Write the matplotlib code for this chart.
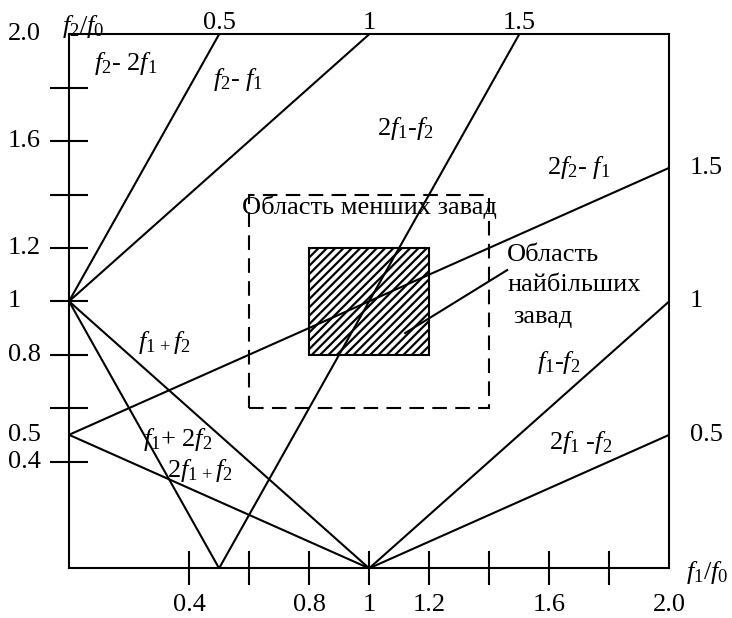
import matplotlib
matplotlib.use("Agg")
import matplotlib.pyplot as plt
from matplotlib.patches import Rectangle

plt.rcParams['font.family'] = ['Liberation Serif', 'DejaVu Serif']
plt.rcParams['mathtext.fontset'] = 'custom'
plt.rcParams['mathtext.rm'] = 'Liberation Serif'
plt.rcParams['mathtext.it'] = 'Liberation Serif:italic'
plt.rcParams['mathtext.bf'] = 'Liberation Serif:bold'
plt.rcParams['hatch.linewidth'] = 1.6

# Intermodulation lines m*f1 +/- n*f2 = f0, given by their end points (f1/f0, f2/f0)
line_f1_start = [0.0, 0.0, 0.5, 0.0, 1.0, 1.0, 0.0, 0.0, 0.0]
line_f2_start = [1.0, 1.0, 0.0, 0.5, 0.0, 0.0, 1.0, 1.0, 0.5]
line_f1_end = [0.5, 1.0, 1.5, 2.0, 2.0, 2.0, 0.5, 1.0, 1.0]
line_f2_end = [2.0, 2.0, 2.0, 1.5, 1.0, 0.5, 0.0, 0.0, 0.0]

# Values where lines leave the frame
top_values = [0.5, 1.0, 1.5]
top_labels = ['0.5', '1', '1.5']
right_values = [1.5, 1.0, 0.5]
right_labels = ['1.5', '1', '0.5']

# Axis ticks and their labels
tick_values = [0.4, 0.6, 0.8, 1.0, 1.2, 1.4, 1.6, 1.8]
y_label_values = [2.0, 1.6, 1.2, 1.0, 0.8, 0.5, 0.4]
y_label_texts = ['2.0', '1.6', '1.2', '1', '0.8', '0.5', '0.4']
x_label_values = [0.4, 0.8, 1.0, 1.2, 1.6, 2.0]
x_label_texts = ['0.4', '0.8', '1', '1.2', '1.6', '2.0']

# Regions (f1/f0, f2/f0): lower-interference zone and strongest-interference zone
minor_zone = (0.6, 0.6, 1.4, 1.4)
major_zone = (0.8, 0.8, 1.2, 1.2)

# Product labels
product_texts = [r'$f_2$- 2$f_1$', r'$f_2$- $f_1$', r'2$f_1$-$f_2$', r'2$f_2$- $f_1$',
                 r'$f_{1\,+}f_2$', r'$f_1$+ 2$f_2$', r'2$f_{1\,+}f_2$',
                 r'$f_1$-$f_2$', r'2$f_1$ -$f_2$']
product_x = [0.19, 0.562, 1.12, 1.697, 0.317, 0.363, 0.437, 1.63, 1.703]
product_y = [1.892, 1.829, 1.649, 1.503, 0.844, 0.481, 0.368, 0.769, 0.473]

FS = 19

fig = plt.figure(figsize=(7.32, 6.18), dpi=100)
ax = fig.add_axes([0.0943, 0.0804, 0.82, 0.8641])
ax.set_xlim(0, 2)
ax.set_ylim(0, 2)

for s in ax.spines.values():
    s.set_linewidth(1.5)

ax.set_xticks(tick_values)
ax.set_yticks(tick_values)
ax.set_xticklabels([])
ax.set_yticklabels([])
ax.tick_params(axis='y', direction='inout', length=27, width=1.5)
ax.tick_params(axis='x', direction='inout', length=24, width=1.5)

for x0, y0, x1, y1 in zip(line_f1_start, line_f2_start, line_f1_end, line_f2_end):
    ax.plot([x0, x1], [y0, y1], color='black', lw=1.5, solid_capstyle='butt')

# Zones
ax.add_patch(Rectangle((minor_zone[0], minor_zone[1]),
                       minor_zone[2] - minor_zone[0], minor_zone[3] - minor_zone[1],
                       fill=False, edgecolor='black', lw=1.5, linestyle=(0, (7, 4))))
ax.add_patch(Rectangle((major_zone[0], major_zone[1]),
                       major_zone[2] - major_zone[0], major_zone[3] - major_zone[1],
                       facecolor='white', edgecolor='black', hatch='////', lw=1.5, zorder=1.5))

ax.text(0.577, 1.353, 'Область менших завад', fontsize=FS, ha='left', va='center')
ax.text(1.46, 1.173, 'Область', fontsize=FS, ha='left', va='center')
ax.text(1.46, 1.061, 'найбільших', fontsize=FS, ha='left', va='center')
ax.text(1.48, 0.942, 'завад', fontsize=FS, ha='left', va='center')
ax.plot([1.46, 1.12], [1.117, 0.881], color='black', lw=1.5)

for t, x, y in zip(product_texts, product_x, product_y):
    ax.text(x, y, t, fontsize=FS, ha='center', va='center')

# Values at the frame edges
for v, t in zip(top_values, top_labels):
    ax.text(v, 2.02, t, fontsize=FS, ha='center', va='baseline', clip_on=False)
for v, t in zip(right_values, right_labels):
    ax.text(2.069, v, t, fontsize=FS, ha='left', va='center', clip_on=False)

for v, t in zip(y_label_values, y_label_texts):
    ax.text(-0.203, v, t, fontsize=FS, ha='left', va='center', clip_on=False)
for v, t in zip(x_label_values, x_label_texts):
    ax.text(v, -0.137, t, fontsize=FS, ha='center', va='center', clip_on=False)

ax.text(0.047, 2.028, r'$f_2/f_0$', fontsize=FS, ha='center', va='center', clip_on=False)
ax.text(2.127, -0.017, r'$f_1/f_0$', fontsize=FS, ha='center', va='center', clip_on=False)

fig.savefig('out.png', dpi=100)
